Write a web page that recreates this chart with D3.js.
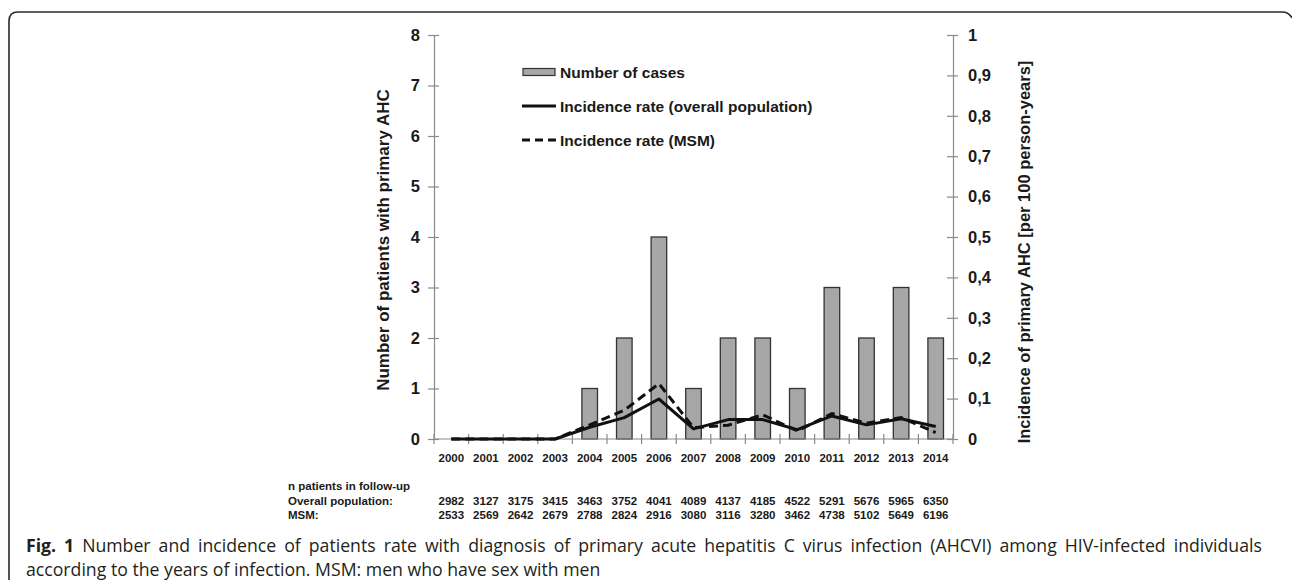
<!DOCTYPE html>
<html>
<head>
<meta charset="utf-8">
<script src="https://cdn.jsdelivr.net/npm/d3@7"></script>
<style>
  html, body { margin: 0; padding: 0; background: #fff; }
  svg { display: block; }
</style>
</head>
<body>
<svg id="chart" width="1292" height="580"></svg>
<script>
// ---- Data ----
const years = ["2000","2001","2002","2003","2004","2005","2006","2007","2008","2009","2010","2011","2012","2013","2014"];
const cases = [0,0,0,0,1,2,4,1,2,2,1,3,2,3,2];
const rateOverall = [0,0,0,0,0.029,0.053,0.099,0.025,0.048,0.048,0.023,0.057,0.035,0.050,0.031];
const rateMSM = [0,0,0,0,0.035,0.071,0.137,0.028,0.034,0.060,0.020,0.063,0.039,0.053,0.016];
const followOverall = [2982,3127,3175,3415,3463,3752,4041,4089,4137,4185,4522,5291,5676,5965,6350];
const followMSM = [2533,2569,2642,2679,2788,2824,2916,3080,3116,3280,3462,4738,5102,5649,6196];
const leftTicks = [0,1,2,3,4,5,6,7,8];
const rightTicks = [0,0.1,0.2,0.3,0.4,0.5,0.6,0.7,0.8,0.9,1];
const legendLabels = ["Number of cases","Incidence rate (overall population)","Incidence rate (MSM)"];
const tableLabels = ["n patients in follow-up","Overall population:","MSM:"];
const leftTitle = "Number of patients with primary AHC";
const rightTitle = "Incidence of primary AHC [per 100 person-years]";
const captionBold = "Fig. 1";
const captionLine1 = "Number and incidence of patients rate with diagnosis of primary acute hepatitis C virus infection (AHCVI) among HIV-infected individuals";
const captionLine2 = "according to the years of infection. MSM: men who have sex with men";

// ---- Layout ----
const svg = d3.select("#chart");
const X0 = 434, X1 = 953, Y0 = 439, Y1 = 35;
const FONT = "Liberation Sans, Arial, sans-serif";
const CAPFONT = "Open Sans, sans-serif";
const axisColor = "#8a8a8a";
const textColor = "#1a1a1a";

const x = d3.scaleBand().domain(years).range([X0, X1]).padding(0);
const yL = d3.scaleLinear().domain([0, 8]).range([Y0, Y1]);
const yR = d3.scaleLinear().domain([0, 1]).range([Y0, Y1]);

// Frame
svg.append("path")
  .attr("d", "M9,580 L9,21 Q9,12 18,12 L1282,12 Q1289,12 1292,18")
  .attr("fill", "none").attr("stroke", "#2a2a2a").attr("stroke-width", 1.6);

// Bars
const bw = x.bandwidth();
svg.append("g").selectAll("rect").data(years).join("rect")
  .attr("x", d => x(d) + bw * 0.275)
  .attr("width", bw * 0.45)
  .attr("y", (d, i) => yL(cases[i]))
  .attr("height", (d, i) => Y0 - yL(cases[i]))
  .attr("fill", "#a7a7a7")
  .attr("stroke", "#333")
  .attr("stroke-width", 1.3)
  .style("display", (d, i) => cases[i] > 0 ? null : "none");

// Axes
function styleAxis(g) {
  g.selectAll(".domain").attr("stroke", axisColor).attr("stroke-width", 1.2);
  g.selectAll(".tick line").attr("stroke", axisColor).attr("stroke-width", 1.2);
}
const gL = svg.append("g").attr("transform", `translate(${X0},0)`)
  .call(d3.axisLeft(yL).tickValues(leftTicks).tickSize(5).tickSizeOuter(0).tickPadding(9).tickFormat(d3.format("d")));
styleAxis(gL);
gL.selectAll(".tick line").attr("x2", 5).attr("x1", -6);
gL.selectAll(".tick text").attr("font-family", FONT).attr("font-weight", "bold").attr("font-size", 16.5).attr("fill", textColor);

const fmtR = d => (d === 0 || d === 1) ? String(d) : d3.format(".1f")(d).replace(".", ",");
const gR = svg.append("g").attr("transform", `translate(${X1},0)`)
  .call(d3.axisRight(yR).tickValues(rightTicks).tickSize(5).tickSizeOuter(0).tickPadding(10).tickFormat(fmtR));
styleAxis(gR);
gR.selectAll(".tick line").attr("x1", -6).attr("x2", 5);
gR.selectAll(".tick text").attr("font-family", FONT).attr("font-weight", "bold").attr("font-size", 16.5).attr("fill", textColor);

// x axis: ticks at band boundaries
const gX = svg.append("g").attr("transform", `translate(0,${Y0})`);
gX.append("line").attr("x1", X0).attr("x2", X1).attr("y1", 0).attr("y2", 0)
  .attr("stroke", axisColor).attr("stroke-width", 1.2);
const bounds = years.map(d => x(d)).concat([x(years[years.length - 1]) + bw]);
gX.selectAll("line.tk").data(bounds).join("line").attr("class", "tk")
  .attr("x1", d => d).attr("x2", d => d).attr("y1", -5).attr("y2", 5)
  .attr("stroke", axisColor).attr("stroke-width", 1.2);
gX.selectAll("text").data(years).join("text")
  .attr("x", d => x(d) + bw / 2).attr("y", 23)
  .attr("text-anchor", "middle")
  .attr("font-family", FONT).attr("font-weight", "bold").attr("font-size", 11.5).attr("fill", textColor)
  .text(d => d);

// Lines
const lineR = d3.line().x((d, i) => x(years[i]) + bw / 2).y(d => yR(d));
svg.append("path").datum(rateOverall).attr("d", lineR)
  .attr("fill", "none").attr("stroke", "#111").attr("stroke-width", 3).attr("stroke-linejoin", "round");
svg.append("path").datum(rateMSM).attr("d", lineR)
  .attr("fill", "none").attr("stroke", "#111").attr("stroke-width", 3).attr("stroke-dasharray", "9,5");

// Legend
const lg = svg.append("g");
const legY = [72, 106, 140];
lg.append("rect").attr("x", 523).attr("y", legY[0] - 3.5).attr("width", 32).attr("height", 7)
  .attr("fill", "#a7a7a7").attr("stroke", "#333").attr("stroke-width", 1.2);
lg.append("line").attr("x1", 522).attr("x2", 556).attr("y1", legY[1]).attr("y2", legY[1])
  .attr("stroke", "#111").attr("stroke-width", 3);
lg.append("line").attr("x1", 522).attr("x2", 556).attr("y1", legY[2]).attr("y2", legY[2])
  .attr("stroke", "#111").attr("stroke-width", 3).attr("stroke-dasharray", "8,5");
lg.selectAll("text").data(legendLabels).join("text")
  .attr("x", 560).attr("y", (d, i) => legY[i] + 5.5)
  .attr("font-family", FONT).attr("font-weight", "bold").attr("font-size", 15.5).attr("fill", textColor)
  .text(d => d);

// Axis titles
svg.append("text")
  .attr("transform", `translate(389,240) rotate(-90)`)
  .attr("text-anchor", "middle")
  .attr("font-family", FONT).attr("font-weight", "bold").attr("font-size", 17).attr("fill", textColor)
  .text(leftTitle);
svg.append("text")
  .attr("transform", `translate(1030,252) rotate(-90)`)
  .attr("text-anchor", "middle")
  .attr("font-family", FONT).attr("font-weight", "bold").attr("font-size", 16.5).attr("fill", textColor)
  .text(rightTitle);

// Table below
const tY = [490, 505, 519];
svg.append("g").selectAll("text").data(tableLabels).join("text")
  .attr("x", 288).attr("y", (d, i) => tY[i])
  .attr("font-family", FONT).attr("font-weight", "bold").attr("font-size", 11.5).attr("fill", textColor)
  .text(d => d);
[followOverall, followMSM].forEach((arr, r) => {
  svg.append("g").selectAll("text").data(arr).join("text")
    .attr("x", (d, i) => x(years[i]) + bw / 2).attr("y", tY[r + 1])
    .attr("text-anchor", "middle")
    .attr("font-family", FONT).attr("font-weight", "bold").attr("font-size", 11.5).attr("fill", textColor)
    .text(d => d);
});

// Caption: condensed type, first line justified to the full width
const CAPSIZE = 18.5, CAPX = 26, LINE1W = 1236, LINE2W = 575;
function measure(str, bold) {
  const t = svg.append("text").attr("font-family", CAPFONT).attr("font-size", CAPSIZE)
    .attr("font-weight", bold ? "bold" : "normal").text(str);
  const w = t.node().getComputedTextLength();
  t.remove();
  return w;
}
const f = LINE2W / measure(captionLine2, false);
svg.append("text").attr("transform", `translate(${CAPX},576) scale(${f},1)`)
  .attr("font-family", CAPFONT).attr("font-size", CAPSIZE).attr("fill", "#231f20")
  .text(captionLine2);
const words1 = captionBold.split(" ").map(w => ({ w, bold: true }))
  .concat(captionLine1.split(" ").map(w => ({ w, bold: false })));
words1.forEach(d => d.len = measure(d.w, d.bold));
const gap = (LINE1W / f - d3.sum(words1, d => d.len)) / (words1.length - 1);
let cx = 0;
words1.forEach(d => { d.x = cx; cx += d.len + gap; });
svg.append("g").attr("transform", `translate(${CAPX},552) scale(${f},1)`)
  .selectAll("text").data(words1).join("text")
  .attr("x", d => d.x)
  .attr("font-family", CAPFONT).attr("font-size", CAPSIZE).attr("fill", "#231f20")
  .attr("font-weight", d => d.bold ? "bold" : "normal")
  .text(d => d.w);
</script>
</body>
</html>
